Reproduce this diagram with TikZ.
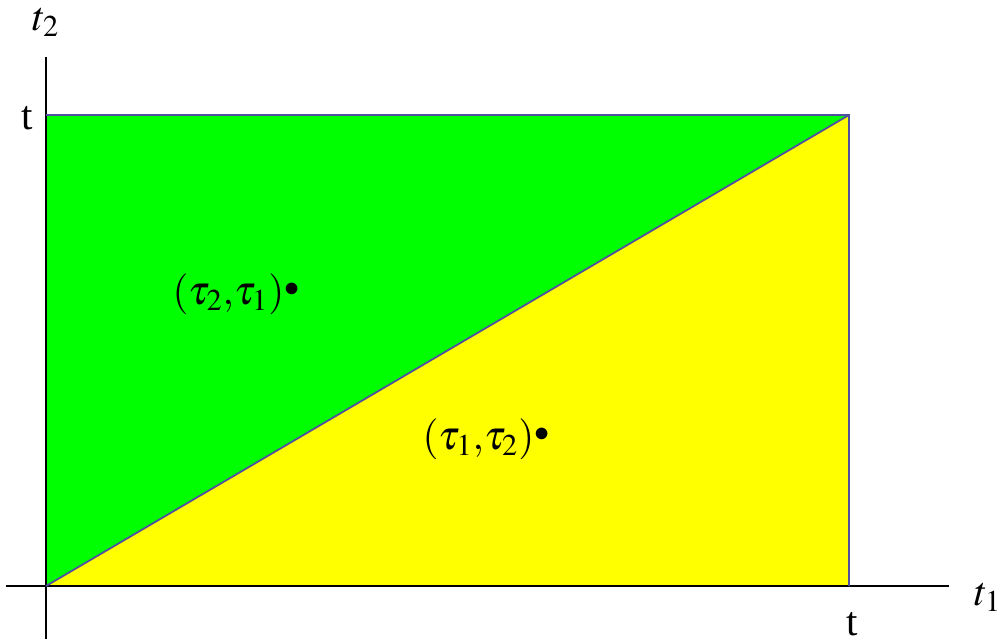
\documentclass[tikz,border=0pt]{standalone}
\usepackage{mathptmx}
\usepackage[no-math]{fontspec}
\setmainfont{Liberation Serif}
\usetikzlibrary{positioning}

\definecolor{regiongreen}{RGB}{0,255,0}
\definecolor{regionyellow}{RGB}{255,255,0}
\definecolor{edgeblue}{RGB}{80,80,160}

\newcommand{\pointdot}{\raisebox{0.2em}{$\scriptstyle\bullet$}}

\begin{document}
\begin{tikzpicture}[
x=0.5pt, y=-0.5pt,
axis/.style={draw=black, line width=0.75pt},
edge/.style={draw=edgeblue, line width=0.9pt},
lbl/.style={inner sep=0pt, font=\fontsize{20.5}{22}\selectfont}
]
\useasboundingbox (0,0) rectangle (1000,642);

\coordinate (O) at (46,586);
\coordinate (A) at (849,586);
\coordinate (B) at (849,115);
\coordinate (C) at (46,115);

% regions
\fill[regiongreen] (O) -- (B) -- (C) -- cycle;
\fill[regionyellow] (O) -- (A) -- (B) -- cycle;

% axes
\draw[axis] (6,586) coordinate (xs) -- (949,586) coordinate (xe);
\draw[axis] (46,57) coordinate (ye) -- (46,639) coordinate (ys);

% rectangle edges and diagonal
\draw[edge] (C) -- (B) -- (A);
\draw[edge] (O) -- (B);

% labels
\node[lbl] (t2) at (46,22) {$t_2$};
\node[lbl] (t1) at (988,597) {$t_1$};
\node[lbl] (tv) at (27,118) {t};
\node[lbl] (th) at (852,624) {t};
\node[lbl] (p21) at (236,294) {$(\tau_2{,}\tau_1)$\pointdot};
\node[lbl] (p12) at (486,439) {$(\tau_1{,}\tau_2)$\pointdot};

\end{tikzpicture}
\end{document}
